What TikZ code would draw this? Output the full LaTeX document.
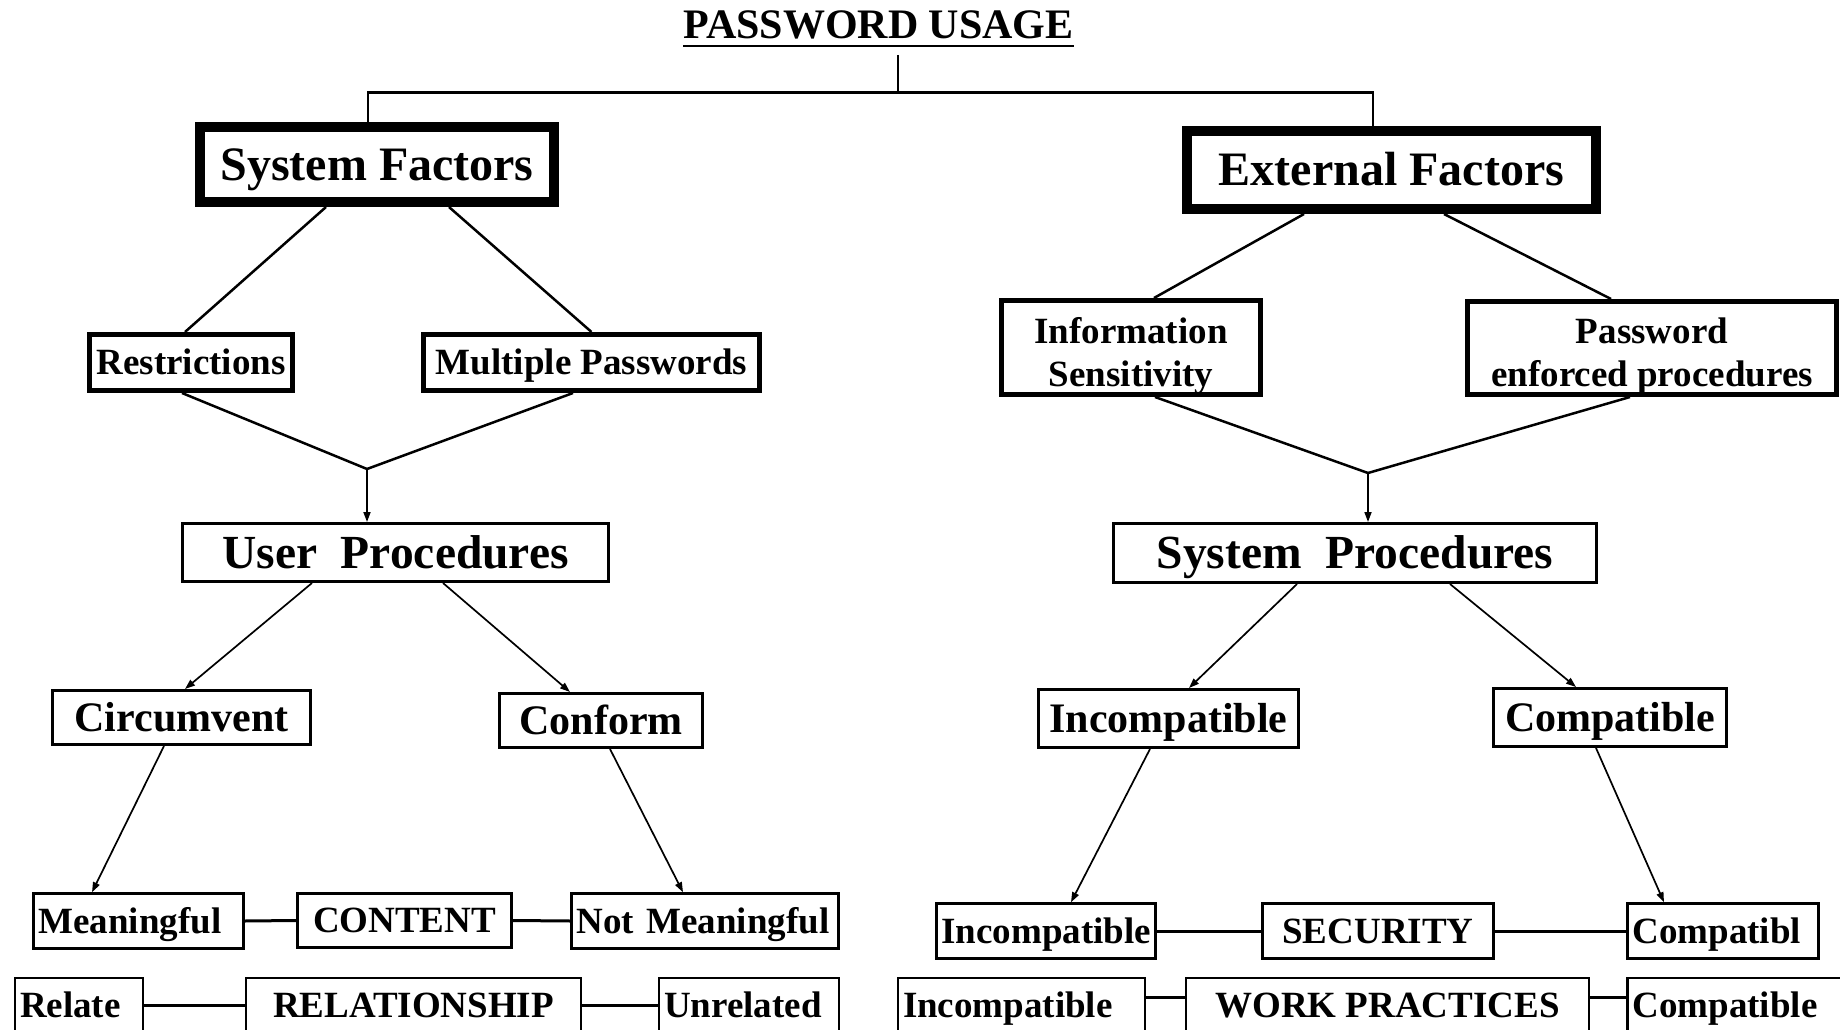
\documentclass[tikz,border=0pt]{standalone}
\usepackage{fontspec}
\setmainfont{Liberation Serif}
\usetikzlibrary{arrows.meta}
\newcommand{\twolines}[2]{\raisebox{0pt}[58pt][28pt]{\begin{tabular}{@{}c@{}}#1\\#2\end{tabular}}}
\begin{document}
\begin{tikzpicture}[x=1pt,y=-1pt,
  every node/.style={inner sep=0pt},
  f37/.style={font=\fontsize{37}{43}\selectfont\bfseries, text height=33.7pt, text depth=9.25pt},
  m37/.style={font=\fontsize{37}{43}\selectfont\bfseries},
  f42/.style={font=\fontsize{42}{48}\selectfont\bfseries, text height=38.2pt, text depth=10.5pt},
  f47/.style={font=\fontsize{47.5}{54}\selectfont\bfseries, text height=43.2pt, text depth=11.9pt},
  f48/.style={font=\fontsize{48}{55}\selectfont\bfseries, text height=43.7pt, text depth=12pt},
  r2/.style={font=\fontsize{37}{43}\selectfont\bfseries, text height=39pt, text depth=41pt, draw, line width=2.5pt},
  thickbox/.style={draw, line width=10pt},
  medbox/.style={draw, line width=5pt},
  box3/.style={draw, line width=3pt},
  lowbox/.style={draw, line width=2.5pt},
  lal/.style={text width=#1, align=left, inner xsep=5pt},
  cn/.style={line width=2.5pt},
  ar/.style={line width=1.7pt, -{Triangle[length=10pt,width=7pt]}},
  hc/.style={line width=3pt}
]
\useasboundingbox (0,0) rectangle (1840,1030);
\fill[white] (0,0) rectangle (1840,1030);
\clip (0,0) rectangle (1840,1030);

% title
\node[font=\fontsize{42}{48}\selectfont\bfseries, anchor=base] (title) at (878.5,39) {PASSWORD USAGE};
\draw[line width=2.5pt] ([yshift=-7pt]title.base west) -- ([yshift=-7pt]title.base east);

% level 1
\node[thickbox, f48, minimum width=354, minimum height=75] (sf) at (377,164.5) {System Factors};
\node[thickbox, f48, minimum width=409, minimum height=78] (ef) at (1391.5,170) {External Factors};

\coordinate (ts) at (898,55);
\coordinate (hub) at (898,92.5);
\draw[cn] (ts) -- (hub);
\draw[cn] (hub) -| ([xshift=-9pt]sf.north);
\draw[cn] (hub) -| ([xshift=-18.5pt]ef.north);

% level 2
\node[medbox, f37, minimum width=203, minimum height=56] (res) at (191,362.5) {Restrictions};
\node[medbox, f37, minimum width=336, minimum height=56] (mp) at (591.5,362.5) {Multiple Passwords};
\node[medbox, m37, minimum width=259, minimum height=94] (info) at (1131,347.5) {\twolines{Information}{Sensitivity}};
\node[medbox, m37, minimum width=369, minimum height=93] (pw) at (1652,348) {\twolines{Password}{enforced procedures}};

\draw[cn] ([xshift=-51pt]sf.south) -- ([xshift=-6pt]res.north);
\draw[cn] ([xshift=72pt]sf.south) -- (mp.north);
\draw[cn] ([xshift=-87.5pt]ef.south) -- ([xshift=23pt]info.north);
\draw[cn] ([xshift=52.5pt]ef.south) -- ([xshift=-41pt]pw.north);

% level 3
\node[box3, f47, minimum width=426, minimum height=58] (up) at (395.5,552.5) {User\ \ Procedures};
\node[box3, f47, minimum width=483, minimum height=59] (sp) at (1355,553) {System\ \ Procedures};

\coordinate (jl) at (367,469);
\draw[cn] ([xshift=-9pt]res.south) -- (jl);
\draw[cn] ([xshift=-18.5pt]mp.south) -- (jl);
\draw[ar] (jl) -- (jl |- up.north);
\coordinate (jr) at (1368,473);
\draw[cn] ([xshift=24pt]info.south) -- (jr);
\draw[cn] ([xshift=-22pt]pw.south) -- (jr);
\draw[ar] (jr) -- (jr |- sp.north);

% level 4
\node[box3, f42, minimum width=258, minimum height=54] (circ) at (181.5,717.5) {Circumvent};
\node[box3, f42, minimum width=203, minimum height=54] (conf) at (601,720.5) {Conform};
\node[box3, f42, minimum width=260, minimum height=58] (inc) at (1168.5,718.5) {Incompatible};
\node[box3, f42, minimum width=233, minimum height=58] (comp) at (1610,717.5) {Compatible};

\draw[ar] ([xshift=-83.5pt]up.south) -- ([xshift=3.5pt]circ.north);
\draw[ar] ([xshift=47.5pt]up.south) -- ([xshift=-31pt]conf.north);
\draw[ar] ([xshift=-58pt]sp.south) -- ([xshift=20.5pt]inc.north);
\draw[ar] ([xshift=95pt]sp.south) -- ([xshift=-34pt]comp.north);

% row 1
\node[lowbox, f37, lal=200pt, minimum height=55] (mean) at (138.5,921) {Meaningful};
\node[lowbox, f37, minimum width=214, minimum height=54] (content) at (404.5,920.5) {CONTENT};
\node[lowbox, f37, lal=257pt, minimum height=55] (nm) at (705,921) {Not Meaningful};
\node[lowbox, f37, lal=209pt, minimum height=55] (inc2) at (1046,931) {Incompatible};
\node[lowbox, f37, minimum width=231, minimum height=55] (sec) at (1378,931) {SECURITY};
\node[lowbox, f37, lal=181pt, minimum height=55] (compl) at (1723,931) {Compatibl};

\draw[ar] ([xshift=-17.5pt]circ.south) -- ([xshift=-46.5pt]mean.north);
\draw[ar] ([xshift=9pt]conf.south) -- ([xshift=-22pt]nm.north);
\draw[ar] ([xshift=-18.5pt]inc.south) -- ([xshift=25pt]inc2.north);
\draw[ar] ([xshift=-14pt]comp.south) -- ([xshift=-59pt]compl.north);

\draw[hc] (mean.east) -- (content.west);
\draw[hc] (content.east) -- (nm.west);
\draw[hc] (inc2.east) -- (sec.west);
\draw[hc] (sec.east) -- (compl.west);

% row 2
\node[r2, lal=118pt] (relate) at (79,1018) {Relate};
\node[r2, minimum width=335] (rel) at (413.5,1018) {RELATIONSHIP};
\node[r2, lal=170pt] (unrel) at (749,1018) {Unrelated};
\node[r2, lal=237pt] (inc3) at (1021.5,1018) {Incompatible};
\node[r2, minimum width=403] (wp) at (1387.5,1018) {WORK PRACTICES};
\node[r2, lal=205pt] (comp3) at (1735,1018) {Compatible};

\draw[hc] ([yshift=13pt]relate.east) -- ([yshift=13pt]rel.west);
\draw[hc] ([yshift=13pt]rel.east) -- ([yshift=13pt]unrel.west);
\draw[hc] ([yshift=21pt]inc3.east) -- ([yshift=21pt]wp.west);
\draw[hc] ([yshift=21pt]wp.east) -- ([yshift=21pt]comp3.west);
\end{tikzpicture}
\end{document}
